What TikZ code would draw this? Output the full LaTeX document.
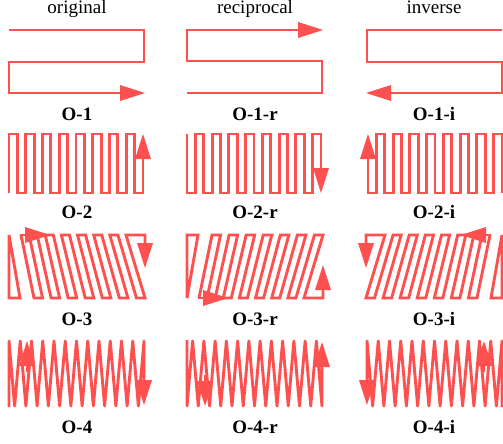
\documentclass[tikz,border=0pt]{standalone}
\usepackage{fontspec}
\setmainfont{Liberation Serif}
\usetikzlibrary{arrows.meta}
\definecolor{scanred}{RGB}{255,80,80}
\newcommand{\patA}{%
  \draw[ln,arr] (9,30) -- (144,30) -- (144,62) -- (9,62) -- (9,93) -- (145,93);}
\newcommand{\patB}{%
  \draw[ln,arr] (9,193) -- (9,134)
    \foreach \k in {1,...,16} { -- ({9+8.375*\k},{163.5+29.5*cos(180*\k)}) -- ({9+8.375*\k},{163.5-29.5*cos(180*\k)}) };}
\newcommand{\patC}{%
  \draw[ln] (9,235) -- (9,298) -- (20,298) -- cycle;
  \draw[ln,arr] (21,235) -- (34,298) -- (42.54,298) -- (29.08,235) -- (37.16,235) -- (51.08,298)
    -- (59.62,298) -- (45.24,235) -- (53.30,235) -- (68.15,298) -- (76.69,298) -- (61.38,235)
    -- (69.46,235) -- (85.23,298) -- (93.77,298) -- (77.54,235) -- (85.62,235) -- (102.31,298)
    -- (110.85,298) -- (93.70,235) -- (101.76,235) -- (119.38,298) -- (127.92,298) -- (109.84,235)
    -- (117.92,235) -- (136.46,298) -- (145,298) -- (126,235) -- (145,235) -- (145,268);
  \draw[ln,arr] (20,235) -- (50,235);}
\newcommand{\patD}{%
  \draw[ln,arr,line join=round] (9,407) -- (9,341)
    \foreach \i in {1,...,24} { -- ({9+5.625*\i},{373.5-32.5*cos(180*\i)}) } -- (144,405);
  \draw[ln,arr] (27,372) -- (27,341);}
\newcommand{\allpats}{\patA\patB\patC\patD}
\begin{document}
\begin{tikzpicture}[x=1pt,y=-1pt,
  ln/.style={draw=scanred,line width=2.9pt},
  arr/.style={-{Triangle[length=25pt,width=16pt,line width=0pt]}},
  hdr/.style={font=\fontsize{19}{22}\selectfont,anchor=base,inner sep=0pt},
  lab/.style={font=\fontsize{19}{22}\selectfont\bfseries,anchor=base,inner sep=0pt}]
\useasboundingbox (0,0) rectangle (503,444);
% column 1: original
\patA \patB \patC \patD
% column 2: reciprocal (mirror top-bottom)
\begin{scope}[shift={(178,123)},yscale=-1] \patA \end{scope}
\begin{scope}[shift={(178,327)},yscale=-1] \patB \end{scope}
\begin{scope}[shift={(178,533)},yscale=-1] \patC \end{scope}
\begin{scope}[shift={(178,747)},yscale=-1] \patD \end{scope}
% column 3: inverse (mirror left-right)
\begin{scope}[shift={(511,0)},xscale=-1] \allpats \end{scope}
% headers
\node[hdr] (h1) at (77,14) {original};
\node[hdr] (h2) at (255,14) {reciprocal};
\node[hdr] (h3) at (434,14) {inverse};
% labels
\node[lab] (l11) at (77,120) {O-1};
\node[lab] (l12) at (255,120) {O-1-r};
\node[lab] (l13) at (434,120) {O-1-i};
\node[lab] (l21) at (77,218) {O-2};
\node[lab] (l22) at (255,218) {O-2-r};
\node[lab] (l23) at (434,218) {O-2-i};
\node[lab] (l31) at (77,325) {O-3};
\node[lab] (l32) at (255,325) {O-3-r};
\node[lab] (l33) at (434,325) {O-3-i};
\node[lab] (l41) at (77,433) {O-4};
\node[lab] (l42) at (255,433) {O-4-r};
\node[lab] (l43) at (434,433) {O-4-i};
\end{tikzpicture}
\end{document}
